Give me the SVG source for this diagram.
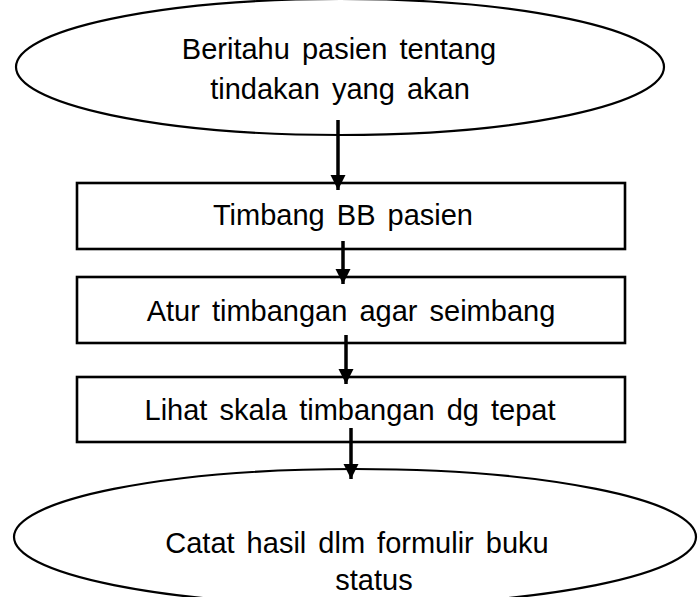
<svg xmlns="http://www.w3.org/2000/svg" width="700" height="597" viewBox="0 0 700 597">
<defs>
<style>
.shape{fill:#fff;stroke:#000;stroke-width:2.2}
.box{fill:#fff;stroke:#000;stroke-width:2.6}
.lbl{font-family:"Liberation Sans",Arial,sans-serif;font-size:29px;word-spacing:4px;fill:#000;text-anchor:middle}
.conn{stroke:#000;stroke-width:3.5;fill:none;marker-end:url(#ah)}
</style>
<marker id="ah" viewBox="0 0 10 10" refX="10" refY="5" markerUnits="userSpaceOnUse" markerWidth="15" markerHeight="16" orient="auto">
<path d="M0,0 L10,5 L0,10 z" fill="#000"/>
</marker>
</defs>
<rect width="700" height="597" fill="#fff"/>
<g id="n1">
<ellipse class="shape" cx="340" cy="67" rx="324" ry="68"/>
<text class="lbl" x="339" y="59">Beritahu pasien tentang</text>
<text class="lbl" x="340" y="99">tindakan yang akan</text>
</g>
<g id="n2">
<rect class="box" x="77" y="183" width="548" height="66"/>
<text class="lbl" x="343" y="225">Timbang BB pasien</text>
</g>
<g id="n3">
<rect class="box" x="77" y="277" width="548" height="66"/>
<text class="lbl" x="351" y="321">Atur timbangan agar seimbang</text>
</g>
<g id="n4">
<rect class="box" x="77" y="377" width="548" height="65"/>
<text class="lbl" x="350" y="420">Lihat skala timbangan dg tepat</text>
</g>
<g id="n5">
<ellipse class="shape" cx="355" cy="537" rx="341" ry="68"/>
<text class="lbl" x="357" y="553">Catat hasil dlm formulir buku</text>
<text class="lbl" x="374" y="590">status</text>
</g>
<g id="connectors">
<line class="conn" x1="338" y1="120" x2="338" y2="190"/>
<line class="conn" x1="343" y1="241" x2="343" y2="284"/>
<line class="conn" x1="346" y1="335" x2="346" y2="384"/>
<line class="conn" x1="351" y1="428" x2="351" y2="479"/>
</g>
</svg>
